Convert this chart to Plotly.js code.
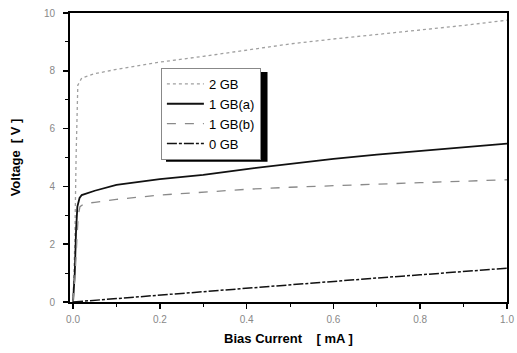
<!DOCTYPE html>
<html>
<head>
<meta charset="utf-8">
<script src="https://cdn.plot.ly/plotly-3.0.1.min.js"></script>
<style>html,body{margin:0;padding:0;background:#fff;}#chart{width:517px;height:353px;}</style>
</head>
<body>
<div id="chart"></div>
<script>
// Bias current (mA) and voltage (V) per sample
const x2GB = [0, 0.004, 0.007, 0.009, 0.011, 0.02, 0.05, 0.1, 0.2, 0.3, 0.4, 0.5, 0.6, 0.7, 0.8, 0.9, 1.0];
const y2GB = [0, 2.0, 5.0, 7.0, 7.5, 7.75, 7.9, 8.05, 8.3, 8.5, 8.72, 8.93, 9.1, 9.25, 9.42, 9.57, 9.75];

const x1GBa = [0, 0.004, 0.007, 0.01, 0.015, 0.02, 0.05, 0.1, 0.2, 0.3, 0.4, 0.5, 0.6, 0.7, 0.8, 0.9, 1.0];
const y1GBa = [0, 1.0, 2.5, 3.3, 3.6, 3.7, 3.85, 4.05, 4.25, 4.4, 4.6, 4.78, 4.95, 5.1, 5.22, 5.35, 5.48];

const x1GBb = [0, 0.005, 0.009, 0.012, 0.016, 0.025, 0.05, 0.1, 0.2, 0.3, 0.4, 0.5, 0.6, 0.7, 0.8, 0.9, 1.0];
const y1GBb = [0, 1.0, 2.2, 3.0, 3.3, 3.4, 3.45, 3.55, 3.7, 3.8, 3.9, 3.97, 4.03, 4.08, 4.13, 4.18, 4.23];

const x0GB = [0, 0.05, 0.1, 0.2, 0.3, 0.4, 0.5, 0.6, 0.7, 0.8, 0.9, 1.0];
const y0GB = [0, 0.06, 0.13, 0.24, 0.35, 0.47, 0.59, 0.71, 0.83, 0.94, 1.05, 1.17];

const seriesNames = ["2 GB", "1 GB(a)", "1 GB(b)", "0 GB"];
const xTickVals = [0, 0.2, 0.4, 0.6, 0.8, 1.0];
const xTickText = ["0.0", "0.2", "0.4", "0.6", "0.8", "1.0"];
const yTickVals = [0, 2, 4, 6, 8, 10];

const traces = [
  {x: x2GB, y: y2GB, name: seriesNames[0], mode: 'lines', line: {color: '#a0a0a0', width: 1.3, dash: 'dot'}},
  {x: x1GBa, y: y1GBa, name: seriesNames[1], mode: 'lines', line: {color: '#111', width: 1.8}},
  {x: x1GBb, y: y1GBb, name: seriesNames[2], mode: 'lines', line: {color: '#8a8a8a', width: 1.3, dash: 'dash'}},
  {x: x0GB, y: y0GB, name: seriesNames[3], mode: 'lines', line: {color: '#111', width: 1.5, dash: '10px,2px,3px,2px'}}
];

const layout = {
  width: 517, height: 353,
  margin: {l: 70, r: 10, t: 13, b: 51},
  paper_bgcolor: '#fff', plot_bgcolor: '#fff',
  font: {family: 'Liberation Sans, Arial, sans-serif', color: '#000'},
  showlegend: true,
  legend: {
    x: 0.208, y: 0.81, xanchor: 'left', yanchor: 'top',
    bgcolor: '#fff', bordercolor: '#888', borderwidth: 1,
    font: {size: 13, color: '#000'},
    itemwidth: 37,
    tracegroupgap: 0
  },
  xaxis: {
    range: [-0.007, 1.0],
    tickvals: xTickVals, ticktext: xTickText,
    ticks: 'outside', ticklen: 5, tickwidth: 1.5, tickcolor: '#000',
    minor: {dtick: 0.1, ticks: 'outside', ticklen: 3, tickcolor: '#000', tickwidth: 1, showgrid: false},
    tickfont: {size: 10, color: '#888'},
    ticklabelstandoff: 2,
    showline: true, linecolor: '#000', linewidth: 2, mirror: true,
    showgrid: false, zeroline: false,
    title: {text: '<b>Bias Current    [ mA ]</b>', font: {size: 13, color: '#000'}, standoff: 10}
  },
  yaxis: {
    range: [0, 10],
    tickvals: yTickVals,
    ticks: 'outside', ticklen: 5, tickwidth: 1.5, tickcolor: '#000',
    minor: {dtick: 1, ticks: 'outside', ticklen: 3, tickcolor: '#000', tickwidth: 1, showgrid: false},
    tickfont: {size: 10, color: '#888'},
    ticklabelstandoff: 6,
    showline: true, linecolor: '#000', linewidth: 2, mirror: true,
    showgrid: false, zeroline: false,
    title: {text: '<b>Voltage  [ V ]</b>', font: {size: 13, color: '#000'}, standoff: 20}
  },
  shapes: [
    {type: 'rect', xref: 'paper', yref: 'paper', x0: 0.2197, x1: 0.452, y0: 0.485, y1: 0.796,
     fillcolor: '#000', line: {width: 0}, layer: 'below'}
  ]
};

Plotly.newPlot('chart', traces, layout, {staticPlot: true, displayModeBar: false});
</script>
</body>
</html>
